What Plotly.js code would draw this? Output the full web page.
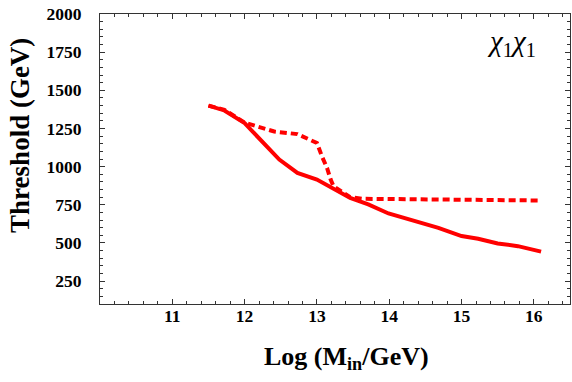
<!DOCTYPE html>
<html>
<head>
<meta charset="utf-8">
<script src="https://cdn.plot.ly/plotly-3.0.1.min.js"></script>
<style>
  html, body { margin: 0; padding: 0; background: #fff; }
  #chart { width: 572px; height: 382px; }
</style>
</head>
<body>
<div id="chart"></div>
<script>
// Solid curve
const solidX = [11.5, 11.72, 12.0, 12.48, 12.73, 13.0, 13.46, 13.71, 13.99, 14.31, 14.68, 15.0, 15.23, 15.5, 15.78, 16.1];
const solidY = [1400, 1368, 1285, 1046, 959, 915, 795, 752, 693, 649, 599, 545, 527, 497, 479, 443];

// Dashed curve
const dashX = [11.5, 11.72, 12.0, 12.11, 12.41, 12.73, 12.89, 13.0, 13.07, 13.14, 13.19, 13.23, 13.46, 13.62, 14.0, 14.5, 15.0, 15.5, 16.1];
const dashY = [1400, 1372, 1288, 1274, 1230, 1213, 1176, 1155, 1067, 991, 915, 871, 800, 789, 788, 786, 783, 776, 778];

const xTicks = [11, 12, 13, 14, 15, 16];
const yTicks = [250, 500, 750, 1000, 1250, 1500, 1750, 2000];

const RED = 'rgb(255,0,0)';
const SERIF = 'Liberation Serif';

const traces = [
    {
        x: solidX, y: solidY,
        mode: 'lines', type: 'scatter',
        line: { color: RED, width: 4 },
        hoverinfo: 'skip'
    },
    {
        x: dashX, y: dashY,
        mode: 'lines', type: 'scatter',
        line: { color: RED, width: 4, dash: '7px,4px' },
        hoverinfo: 'skip'
    }
];

const axisCommon = {
    showgrid: false,
    zeroline: false,
    showline: true,
    linecolor: '#333',
    linewidth: 1,
    mirror: 'ticks',
    ticks: 'inside',
    ticklen: 5,
    tickwidth: 1,
    tickcolor: '#333',
    tickfont: { family: SERIF, size: 17.5, color: '#000' }
};

const layout = {
    width: 572,
    height: 382,
    margin: { l: 100, r: 2, t: 14, b: 78 },
    paper_bgcolor: '#fff',
    plot_bgcolor: '#fff',
    showlegend: false,
    xaxis: Object.assign({}, axisCommon, {
        range: [10, 16.5],
        tickvals: xTicks,
        ticktext: xTicks.map(v => '<b>' + v + '</b>'),
        ticklabelstandoff: -4,
        minor: { dtick: 0.2, tick0: 10, ticks: 'inside', ticklen: 3, tickcolor: '#333' }
    }),
    yaxis: Object.assign({}, axisCommon, {
        range: [100, 2000],
        tickvals: yTicks,
        ticktext: yTicks.map(v => '<b>' + v + '</b>'),
        ticklabelstandoff: 14,
        minor: { dtick: 50, tick0: 0, ticks: 'inside', ticklen: 3, tickcolor: '#333' }
    }),
    annotations: [
        {
            // x title, slightly right of the plot centre as in the original
            text: '<b>Log (M<sub>in</sub>/GeV)</b>',
            xref: 'paper', yref: 'paper',
            x: 0.525, y: -0.125,
            xanchor: 'center', yanchor: 'top',
            showarrow: false,
            font: { family: SERIF, size: 26, color: '#000' }
        },
        {
            // y title, a bit above the plot centre
            text: '<b>Threshold (GeV)</b>',
            xref: 'paper', yref: 'paper',
            x: -0.17, y: 0.58,
            xanchor: 'center', yanchor: 'middle',
            textangle: -90,
            showarrow: false,
            font: { family: SERIF, size: 27, color: '#000' }
        },
        {
            text: '<i>\u03c7</i><sub>1</sub><i>\u03c7</i><sub>1</sub>',
            xref: 'paper', yref: 'paper',
            x: 0.875, y: 0.9,
            xanchor: 'center', yanchor: 'middle',
            showarrow: false,
            font: { family: SERIF, size: 29, color: '#000' }
        }
    ]
};

Plotly.newPlot('chart', traces, layout, { staticPlot: true, displayModeBar: false });
</script>
</body>
</html>
